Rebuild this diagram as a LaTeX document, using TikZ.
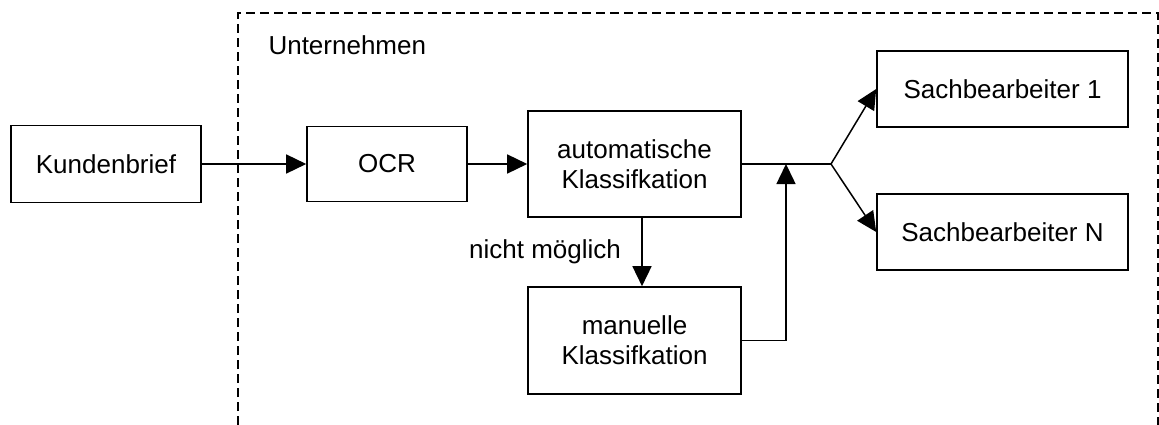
\documentclass[tikz,border=0pt]{standalone}
\usepackage{fontspec}
\setmainfont{Liberation Sans}
\usetikzlibrary{arrows.meta}
\begin{document}
\begin{tikzpicture}[x=1pt,y=-1pt,
  every node/.style={font=\fontsize{26}{30}\selectfont},
  box/.style={draw,line width=1.6pt,rectangle,inner sep=0pt,align=center},
  flow/.style={line width=1.5pt,-{Triangle[length=20pt,width=19pt]}},
  link/.style={line width=1.5pt},
  frame/.style={line width=1.3pt,dash pattern=on 9pt off 5pt}]
\useasboundingbox (0,0) rectangle (1159,425);

% company boundary, open at the bottom
\coordinate (fbl) at (238,425);
\coordinate (ftl) at (238,13);
\coordinate (ftr) at (1158,13);
\coordinate (fbr) at (1158,425);
\draw[frame] (fbl) -- (ftl) -- (ftr) -- (fbr);
\node[anchor=base west] (company) at (265,55) {Unternehmen};

% process boxes
\node[box,minimum width=190pt,minimum height=77pt] (kb) at (106,164) {Kundenbrief};
\node[box,minimum width=160pt,minimum height=75pt] (ocr) at (387,164) {OCR};
\node[box,minimum width=213pt,minimum height=106pt] (auto) at (634.5,164) {automatische\\Klassifkation};
\node[box,minimum width=213pt,minimum height=107pt] (man) at (634.5,340.5) {manuelle\\Klassifkation};
\node[box,minimum width=251pt,minimum height=76pt] (s1) at (1002.5,89) {Sachbearbeiter 1};
\node[box,minimum width=251pt,minimum height=76pt] (sn) at (1002.5,232) {Sachbearbeiter N};

% helper points
\coordinate (merge) at (786,164);
\coordinate (split) at (831,164);
\coordinate (down) at ([xshift=7.5pt]auto.south);

% connectors
\draw[flow] (kb.east) -- (ocr.west);
\draw[flow] (ocr.east) -- (auto.west);
\draw[flow] (down) -- (down |- man.north);
\node[anchor=base] (np) at (545,258) {nicht möglich};
\draw[link] (auto.east) -- (split);
\draw[flow] (man.east) -| (merge);
\draw[flow] (split) -- (s1.west);
\draw[flow] (split) -- (sn.west);
\end{tikzpicture}
\end{document}
